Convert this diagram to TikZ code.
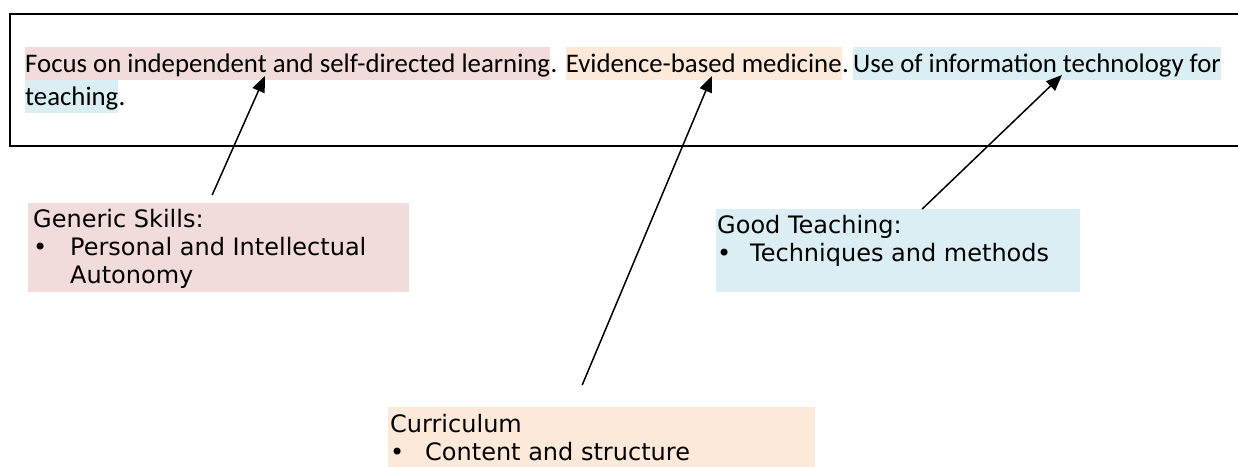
\documentclass[tikz,border=0pt]{standalone}
\usepackage{fontspec}
\setmainfont{Carlito}
\newfontfamily\boxfont{DejaVu Sans}
\usepackage{tikz}
\usetikzlibrary{arrows.meta,positioning,calc}

\definecolor{pinkhl}{HTML}{F2DCDB}
\definecolor{orangehl}{HTML}{FDE9D9}
\definecolor{bluehl}{HTML}{DAEEF3}

\begin{document}
\begin{tikzpicture}[x=1pt,y=-1pt,
    line/.style={inner sep=0pt, anchor=base west, text height=25pt, text depth=8pt,
      font=\fontsize{26.8}{33}\selectfont},
    hlpink/.style={line, fill=pinkhl},
    hlorange/.style={line, fill=orangehl},
    hlblue/.style={line, fill=bluehl},
    boxtext/.style={inner sep=0pt, anchor=base west, align=left,
      font=\boxfont\fontsize{24}{28}\selectfont},
    pointer/.style={line width=1.5pt, -{Triangle[length=16pt,width=13pt]}}]
    \useasboundingbox (0,0) rectangle (1238,466);

    % sentence box
    \draw[line width=2pt] (1250,14) -- (10,14) -- (10,146) -- (1250,146);
    \draw (25,72) node[hlpink] (focus) {Focus on independent and self-directed learning};
      \node[line, base right=0pt of focus] (dot1) {.\kern8pt};
      \node[hlorange, base right=0pt of dot1] (evidence) {Evidence-based medicine};
      \node[line, base right=0pt of evidence] (dot2) {.\kern4pt};
      \node[hlblue, base right=0pt of dot2] (tech) {Use of information technology for};
    \draw (25,105) node[hlblue] (teaching) {teaching};
      \node[line, base right=0pt of teaching] (dot3) {.};

    % the three boxes
    \draw (28,203) node[fill=pinkhl, anchor=north west, minimum width=381, minimum height=89] (skillsbox) {};
    \draw (716,209) node[fill=bluehl, anchor=north west, minimum width=364, minimum height=83] (goodbox) {};
    \draw (388,407) node[fill=orangehl, anchor=north west, minimum width=427, minimum height=70] (currbox) {};

    \node[boxtext] (skills) at ($(skillsbox.north west)+(5,24)$)
      {\begin{tabular}[t]{@{}p{37pt}@{}l@{}}
        \multicolumn{2}{@{}l@{}}{Generic Skills:}\\
        \textbullet & Personal and Intellectual\\
         & Autonomy
      \end{tabular}};
    \node[boxtext] (good) at ($(goodbox.north west)+(1,24)$)
      {\begin{tabular}[t]{@{}p{33pt}@{}l@{}}
        \multicolumn{2}{@{}l@{}}{Good Teaching:}\\
        \textbullet & Techniques and methods
      \end{tabular}};
    \node[boxtext] (curr) at ($(currbox.north west)+(2,25)$)
      {\begin{tabular}[t]{@{}p{35pt}@{}l@{}}
        \multicolumn{2}{@{}l@{}}{Curriculum}\\
        \textbullet & Content and structure
      \end{tabular}};

    % arrows
    \coordinate (tipfocus) at (265,76);
    \coordinate (tipevidence) at (712,76);
    \coordinate (tiptech) at (1062,75);
    \draw[pointer] ($(skillsbox.north)+(-6.5,-8)$) -- (tipfocus);
    \draw[pointer] ($(currbox.north)+(-19.5,-22)$) -- (tipevidence);
    \draw[pointer] ($(goodbox.north)+(24,0)$) -- (tiptech);

\end{tikzpicture}
\end{document}
